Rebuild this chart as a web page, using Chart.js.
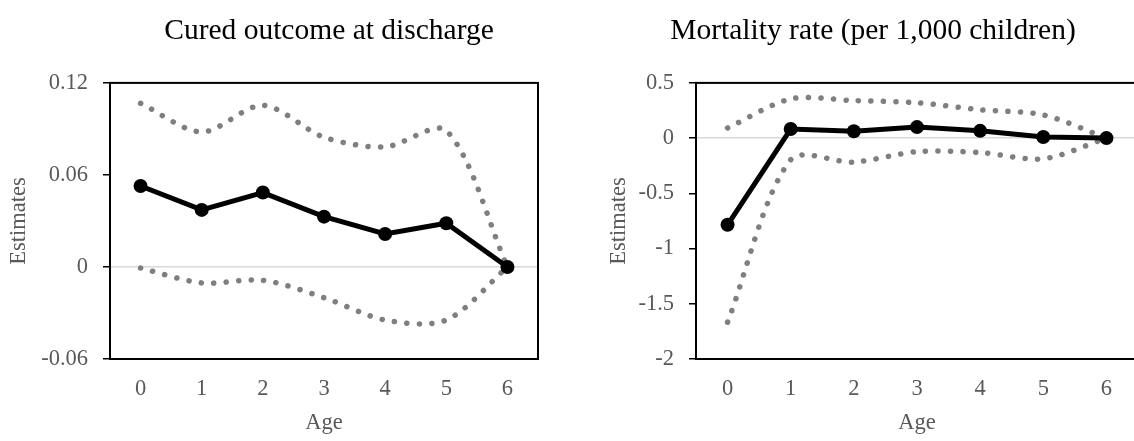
<!DOCTYPE html>
<html>
<head>
<meta charset="utf-8">
<script src="https://cdn.jsdelivr.net/npm/chart.js@4"></script>
<style>
  html, body { margin: 0; padding: 0; background: #fff; overflow: hidden; width: 1134px; height: 441px; }
  canvas { position: absolute; top: 0; }
  #cured { left: 0; }
  #mortality { left: 600px; }
</style>
</head>
<body>
<canvas id="cured" width="658" height="441"></canvas>
<canvas id="mortality" width="546" height="441"></canvas>
<script>
// ages on the x axis
const ages = ['0', '1', '2', '3', '4', '5', '6'];

// cured outcome at discharge
const curedEst = [0.0528, 0.0372, 0.0485, 0.0328, 0.0215, 0.0285, 0];
const curedUpper = [0.1067, 0.088, 0.1054, 0.0846, 0.0783, 0.0889, 0];
const curedLower = [-0.0007, -0.0104, -0.0087, -0.02, -0.0346, -0.0346, 0];
const curedTicks = [-0.06, 0, 0.06, 0.12];

// mortality rate (per 1,000 children)
const mortEst = [-0.785, 0.082, 0.062, 0.10, 0.066, 0.01, 0];
const mortUpper = [0.092, 0.355, 0.34, 0.32, 0.257, 0.21, 0];
const mortLower = [-1.667, -0.196, -0.217, -0.123, -0.13, -0.187, 0];
const mortTicks = [-2, -1.5, -1, -0.5, 0, 0.5];

const serif = "'Liberation Serif', 'Times New Roman', serif";
const grey = '#595959';

// box around the plot area
const frame = {
    id: 'frame',
    beforeDatasetsDraw(chart) {
        const { ctx, chartArea: a } = chart;
        ctx.save();
        ctx.strokeStyle = '#000';
        ctx.lineWidth = 2;
        ctx.strokeRect(a.left, a.top, a.right - a.left, a.bottom - a.top);
        ctx.restore();
    }
};

function dotted(data) {
    return {
        data: data,
        borderColor: '#7f7f7f',
        borderWidth: 5.5,
        borderDash: [0.1, 12.4],
        borderCapStyle: 'round',
        pointRadius: 0,
        tension: 0.3,
        fill: false
    };
}

function drawPanel(id, title, est, upper, lower, yTicks, axisWidth, rightGap) {
    return new Chart(document.getElementById(id), {
        type: 'line',
        data: {
            labels: ages,
            datasets: [
                {
                    data: est,
                    borderColor: '#000',
                    borderWidth: 5,
                    pointRadius: 7,
                    pointBackgroundColor: '#000',
                    pointBorderWidth: 0,
                    tension: 0
                },
                dotted(upper),
                dotted(lower)
            ]
        },
        options: {
            responsive: false,
            animation: false,
            layout: { padding: 0 },
            plugins: {
                legend: { display: false },
                tooltip: { enabled: false },
                title: {
                    display: true,
                    text: title,
                    color: '#000',
                    font: { family: serif, size: 29.5, weight: 'normal' },
                    padding: { top: 14, bottom: 33.5 }
                }
            },
            scales: {
                x: {
                    offset: true,
                    grid: { display: false },
                    border: { display: true, color: '#000', width: 2 },
                    ticks: { color: grey, font: { family: serif, size: 22.5 }, padding: 9 },
                    title: {
                        display: true,
                        text: 'Age',
                        color: grey,
                        font: { family: serif, size: 22.5 },
                        padding: { top: 0, bottom: 4 }
                    },
                    afterFit: s => { s.height = 82; }
                },
                y: {
                    min: yTicks[0],
                    max: yTicks[yTicks.length - 1],
                    afterBuildTicks: s => { s.ticks = yTicks.map(v => ({ value: v })); },
                    grid: {
                        color: c => (c.tick && c.tick.value === 0) ? '#d9d9d9' : 'rgba(0,0,0,0)',
                        lineWidth: 1.5,
                        tickColor: '#000',
                        tickWidth: 1.5,
                        tickLength: 7
                    },
                    border: { display: true, color: '#000', width: 2 },
                    ticks: {
                        color: grey,
                        font: { family: serif, size: 22.5 },
                        padding: 15,
                        callback: v => String(v)
                    },
                    title: {
                        display: true,
                        text: 'Estimates',
                        color: grey,
                        font: { family: serif, size: 22.5 },
                        padding: { top: 6, bottom: 0 }
                    },
                    afterFit: s => { s.width = axisWidth; }
                },
                // empty space on the right so the title stays centred on the panel
                gap: {
                    type: 'linear',
                    position: 'right',
                    grid: { display: false },
                    border: { display: false },
                    ticks: { display: false },
                    afterFit: s => { s.width = rightGap; }
                }
            }
        },
        plugins: [frame]
    });
}

drawPanel('cured', 'Cured outcome at discharge', curedEst, curedUpper, curedLower, curedTicks, 110, 120);
drawPanel('mortality', 'Mortality rate (per 1,000 children)', mortEst, mortUpper, mortLower, mortTicks, 96, 8);
</script>
</body>
</html>
